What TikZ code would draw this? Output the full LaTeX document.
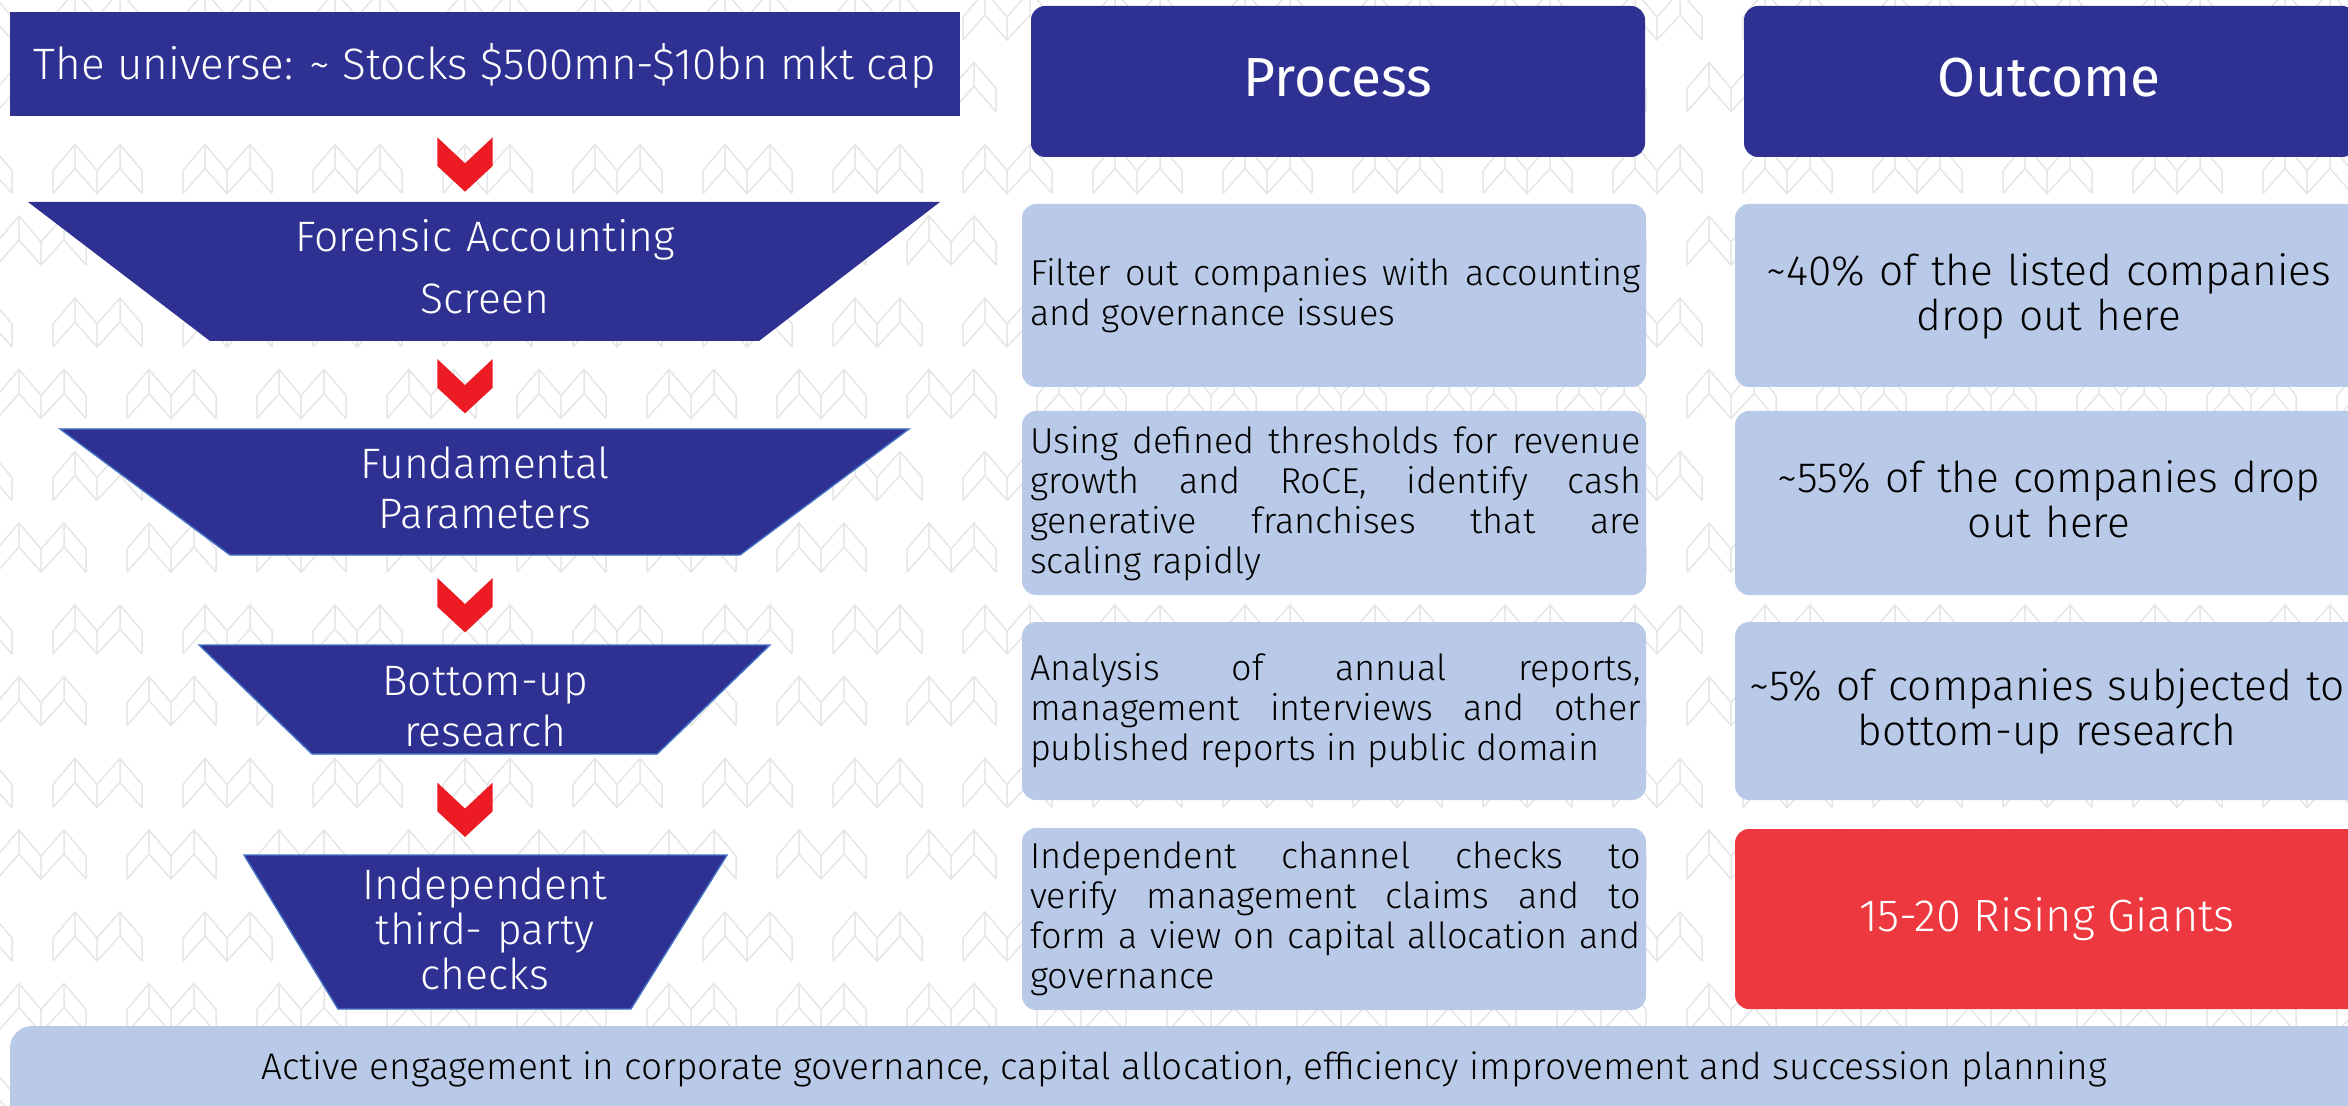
\documentclass[tikz,border=0pt]{standalone}
\usepackage{fontspec}
\setmainfont{Fira Sans Light}
\newfontfamily\regfont{Fira Sans}
\definecolor{navy}{HTML}{2E3192}
\definecolor{paleblue}{HTML}{B4C7E7}
\definecolor{chevred}{HTML}{ED1C24}
\definecolor{boxred}{HTML}{EE3239}
\definecolor{patgray}{HTML}{E6E6E6}
\definecolor{edgeblue}{HTML}{4472C4}
\begin{document}
\begin{tikzpicture}[x=0.5pt,y=-0.5pt,
  patline/.style={draw=patgray,line width=0.75pt,line join=miter},
  motif/.pic={\path[patline] (0,49)--(0,26)--(22,0)--(44,26)--(67,0)--(89,26)--(89,49)
     (0,49)--(22,24)--(44,49)--(67,24)--(89,49)
     (22,0)--(22,24) (44,26)--(44,49) (67,0)--(67,24);},
  navyshape/.style={fill=navy},
  funnel/.style={fill=navy,draw=edgeblue,line width=0.7pt},
  chevron/.style={fill=chevred},
  pbox/.style={fill=paleblue,fill opacity=0.93,rounded corners=7pt},
  rbox/.style={fill=boxred,fill opacity=0.97,rounded corners=7pt},
  hbox/.style={fill=navy,rounded corners=7pt},
  txt/.style={inner sep=0pt,outer sep=0pt},
  funtxt/.style={txt,white,anchor=base,text width=360pt,align=center},
  proctxt/.style={txt,black,anchor=base west,text width=305.5pt,align=justify,font=\fontsize{18}{20}\selectfont},
  outtxt/.style={txt,black,anchor=base,text width=318pt,align=center,font=\fontsize{21.2}{22.25}\selectfont},
  headtxt/.style={txt,white,anchor=base,font=\regfont\fontsize{27.5}{31}\selectfont}
]
\path[use as bounding box,clip] (0,0) rectangle (2348,1106);
\fill[white] (0,0) rectangle (2348,1106);
% watermark pattern
\foreach \k in {-1,...,18}{
  \foreach \j in {0,...,7}{
    \pic at ({53+130*\k},{-9+153.5*\j}) {motif};
    \pic at ({-3+130*\k},{62.5+153.5*\j}) {motif};
  }
}
% universe box
\path[navyshape] (10,12) rectangle (960,116);
\node[txt,white,anchor=base,font=\fontsize{22}{26}\selectfont] (univ) at (485,80)
  {The universe: \textasciitilde{} Stocks \$500mn-\$10bn mkt cap};
% funnel
\path[navyshape] (28,202)--(940,202)--(759,341)--(210,341)--cycle;
\path[funnel] (60,429)--(909,429)--(740,555)--(230,555)--cycle;
\path[funnel] (199,645)--(770,645)--(657,754)--(312,754)--cycle;
\path[funnel] (244,855)--(727,855)--(631,1009)--(338,1009)--cycle;
\node[funtxt,font=\fontsize{21.3}{31}\selectfont] (f1) at (485,252) {Forensic Accounting\\Screen};
\node[funtxt,font=\fontsize{21.3}{25}\selectfont] (f2) at (485,478.6) {Fundamental\\Parameters};
\node[funtxt,font=\fontsize{21.3}{25.5}\selectfont] (f3) at (485,695) {Bottom-up\\research};
\node[funtxt,font=\fontsize{21.3}{22.5}\selectfont] (f4) at (485,899) {Independent\\third- party\\checks};
% chevrons
\foreach \t in {137.3,359,578,782.6}{
  \path[chevron] (437.3,\t)--(465,\t+26)--(492.7,\t)--(492.7,\t+28.7)--(465,\t+54.4)--(437.3,\t+28.7)--cycle;
}
% headers
\path[hbox] (1031,6) rectangle (1645,157);
\path[hbox] (1744,6) rectangle (2356,157);
\node[headtxt] (hproc) at (1338,96.4) {Process};
\node[headtxt] (hout) at (2049,96.4) {Outcome};
% process boxes
\path[pbox] (1022,204) rectangle (1646,387);
\path[pbox] (1022,411) rectangle (1646,595);
\path[pbox] (1022,622) rectangle (1646,800);
\path[pbox] (1022,828) rectangle (1646,1010);
\node[proctxt] (p1) at (1030,285.7) {Filter out companies with accounting\linebreak and governance issues};
\node[proctxt] (p2) at (1030,453.6) {Using defined thresholds for revenue\linebreak growth and RoCE, identify cash\linebreak generative franchises that are\linebreak scaling rapidly};
\node[proctxt] (p3) at (1030,680.8) {Analysis of annual reports,\linebreak management interviews and other\linebreak published reports in public domain};
\node[proctxt] (p4) at (1030,868.5) {Independent channel checks to\linebreak verify management claims and to\linebreak form a view on capital allocation and\linebreak governance};
% outcome boxes
\path[pbox] (1735,204) rectangle (2362,387);
\path[pbox] (1735,411) rectangle (2362,595);
\path[pbox] (1735,622) rectangle (2362,800);
\path[rbox] (1735,829) rectangle (2362,1009);
\node[outtxt] (o1) at (2049,285.7) {\textasciitilde40\% of the listed companies\\drop out here};
\node[outtxt] (o2) at (2049,492.9) {\textasciitilde55\% of the companies drop\\out here};
\node[outtxt] (o3) at (2047,700.6) {\textasciitilde5\% of companies subjected to\\bottom-up research};
\node[txt,white,anchor=base,font=\fontsize{22.6}{26}\selectfont] (o4) at (2047,931.7) {15-20 Rising Giants};
% bottom bar
\path[pbox,rounded corners=11pt] (10,1026) rectangle (2370,1150);
\node[txt,black,anchor=base,font=\fontsize{18.5}{22}\selectfont] (bar) at (1184,1079.7)
  {Active engagement in corporate governance, capital allocation, efficiency improvement and succession planning};
\end{tikzpicture}
\end{document}
